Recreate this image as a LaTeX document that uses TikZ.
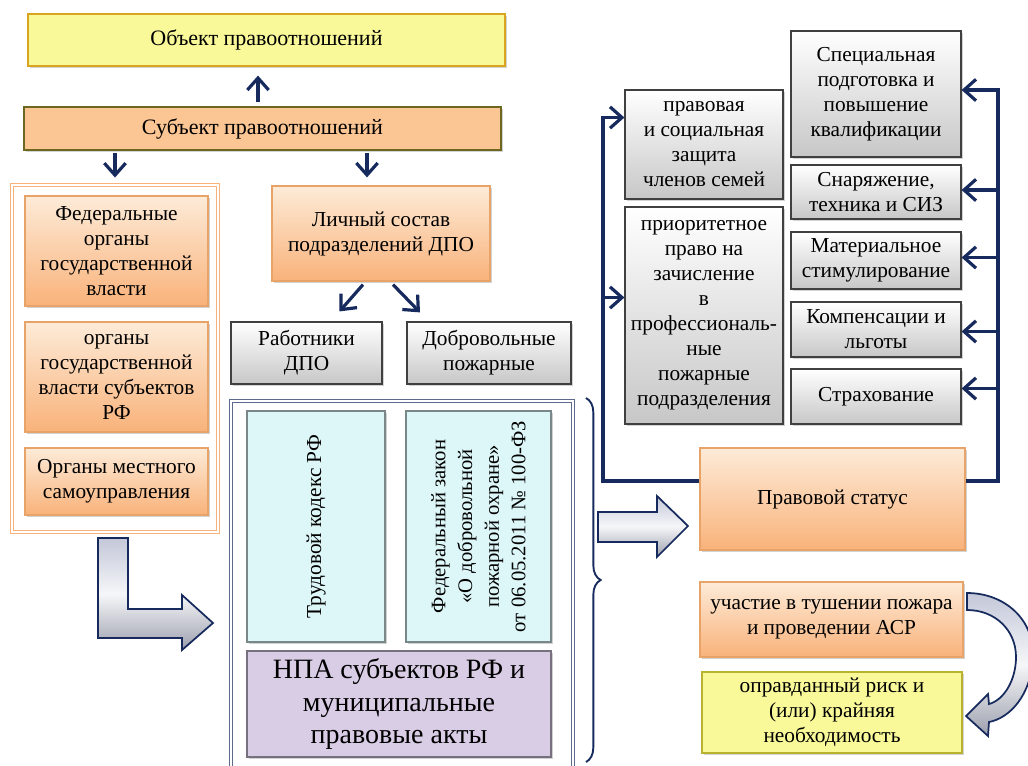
\documentclass[tikz,border=0pt]{standalone}
\usepackage{fontspec}
\setmainfont{Liberation Serif}
\usetikzlibrary{arrows.meta,calc,shadows,decorations.pathreplacing}

\definecolor{navy}{HTML}{172A5E}
\definecolor{peach}{HTML}{F9B27A}
\definecolor{peachlt}{HTML}{FDEBD8}
\definecolor{subjfill}{HTML}{FBC594}
\definecolor{lemon}{HTML}{F9F99A}
\definecolor{gold}{HTML}{D9A520}
\definecolor{icecyan}{HTML}{DDF6F8}
\definecolor{lilac}{HTML}{D9CCE5}
\definecolor{steel}{HTML}{C3C7D8}

\tikzset{decoration={brace,amplitude=11pt}}
\tikzset{
  px/.style 2 args={minimum width=#1*0.75pt,minimum height=#2*0.75pt},
  box/.style={inner sep=1pt,align=center,font=\fontsize{16}{18.75}\selectfont,
              drop shadow={shadow xshift=1.6pt,shadow yshift=-1.6pt,opacity=.35}},
  graybox/.style={box,draw=black!75,line width=.9pt,top color=white,bottom color=black!22},
  peachbox/.style={box,draw=peach!70!brown,line width=.9pt,top color=peachlt,bottom color=peach},
  lemonbox/.style={box,draw=gold,line width=.9pt,fill=lemon},
  cyanbox/.style={box,draw=black!45!icecyan,line width=.9pt,fill=icecyan},
  lilacbox/.style={box,draw=black!45!lilac,line width=.9pt,fill=lilac},
  framebox/.style={draw=#1,double=white,double distance=1.3pt,line width=.7pt,inner sep=0pt},
  arr/.style={-{Straight Barb[length=9pt,width=16pt]},draw=navy,line width=2.4pt},
  blockarrow/.style={draw=navy,line width=1.3pt,line join=miter,
              top color=steel,bottom color=steel!80!black,middle color=white!85!steel}
}

\begin{document}
\begin{tikzpicture}[x=0.75pt,y=-0.75pt]
\useasboundingbox (0,0) rectangle (1028,765);
\clip (0,0) rectangle (1028,765);

  \node[lemonbox,px={477}{52},font=\fontsize{16.5}{19}\selectfont] (obj) at (266.5,40) {Объект правоотношений};
  \node[box,draw=olive!70!black,line width=.9pt,fill=subjfill,px={477}{43},
        font=\fontsize{16.5}{19}\selectfont] (subj) at (262.5,128.5) {Субъект правоотношений};

  % органы власти
  \node[framebox=peach,fill=white,px={206}{347}] (frameL) at (115,358.5) {};
  \node[peachbox,px={183}{110}] (fed) at (116.5,251) {Федеральные\\органы\\государственной\\власти};
  \node[peachbox,px={183}{110}] (reg) at (116.5,377) {органы\\государственной\\власти субъектов\\РФ};
  \node[peachbox,px={183}{67}] (mun) at (116.5,481.5) {Органы местного\\самоуправления};

  % личный состав
  \node[peachbox,px={218}{95}] (lich) at (381,233.5) {Личный состав\\подразделений ДПО};
  \node[graybox,px={151}{62}] (rab) at (306.5,353) {Работники\\ДПО};
  \node[graybox,px={164}{62}] (dobr) at (489,353) {Добровольные\\пожарные};

  % нормативная база
  \node[framebox=navy!70,fill=white,px={342}{373}] (frameN) at (402,587.5) {};
  \node[cyanbox,rotate=90,px={231}{138}] (tk) at (316,526.5) {Трудовой кодекс РФ};
  \node[cyanbox,rotate=90,px={231}{145},font=\fontsize{15.5}{20}\selectfont] (fz) at (478.5,526.5)
       {Федеральный закон\\«О добровольной\\пожарной охране»\\от 06.05.2011 № 100-ФЗ};
  \node[lilacbox,px={304}{106},font=\fontsize{21}{24.5}\selectfont] (npa) at (399,704)
       {НПА субъектов РФ и\\муниципальные\\правовые акты};

  % правовой статус
  \node[graybox,px={158}{109}] (zash) at (704,144.5) {правовая\\и социальная\\защита\\членов семей};
  \node[graybox,px={158}{217}] (prior) at (704,315.5)
       {приоритетное\\право на\\зачисление\\в\\профессиональ-\\ные\\пожарные\\подразделения};
  \node[graybox,px={170}{126}] (spec) at (876,94) {Специальная\\подготовка и\\повышение\\квалификации};
  \node[graybox,px={170}{54}] (snar) at (876,192) {Снаряжение,\\техника и СИЗ};
  \node[graybox,px={170}{57}] (mat) at (876,260.5) {Материальное\\стимулирование};
  \node[graybox,px={170}{55}] (komp) at (876,329.5) {Компенсации и\\льготы};
  \node[graybox,px={170}{55}] (strah) at (876,396.5) {Страхование};
  \node[peachbox,px={265}{102}] (status) at (832.5,499) {Правовой статус};
  \node[peachbox,px={263}{75}] (uch) at (831.5,619.5) {участие в тушении пожара\\и проведении АСР};
  \node[lemonbox,draw=olive!60!lemon,px={260}{81}] (opr) at (832,712.5)
       {оправданный риск и\\(или) крайняя\\необходимость};

  \draw[arr] ($(subj.north)+(-4.5,-4)$) -- ($(obj.south)+(-8.5,9)$);
  \draw[arr] ($(subj.south -| frameL.north)+(0,2)$) -- ($(frameL.north)+(0,-7)$);
  \draw[arr] ($(subj.south -| lich.north)+(-14,2)$) -- ($(lich.north)+(-14,-8)$);
  \draw[arr] ($(lich.south)+(-18,3)$) -- ($(rab.north)+(33,-10)$);
  \draw[arr] ($(lich.south)+(12,3)$) -- ($(dobr.north)+(-69,-9)$);

  \coordinate (busL) at (603,481);
  \coordinate (busR) at (998,481);
  \draw[arr] (status.west |- busL) -- (busL) |- ($(zash.west)+(0,-27)$);
  \draw[arr] ($(busL |- prior.west)+(0,-18)$) -- ($(prior.west)+(0,-18)$);
  \draw[arr] (status.east |- busR) -- (busR) |- ($(spec.east)+(0,-4)$);
  \foreach \n/\dy in {snar/-2,mat/-3,komp/2,strah/-8}
    \draw[arr] ($(busR |- \n.east)+(0,\dy)$) -- ($(\n.east)+(0,\dy)$);

  \draw[decorate,draw=navy,line width=1.4pt] (586,398) -- (586,762);

  \draw[blockarrow] (98,538) -- (128,538) -- (128,609) -- (182,609) -- (182,595)
       -- (213,623) -- (182,650) -- (182,638) -- (98,638) -- cycle;
  \draw[blockarrow] (598,512) -- (657,512) -- (657,496) -- (688,526) -- (657,557)
       -- (657,542) -- (598,542) -- cycle;
  \draw[blockarrow] (967,593) .. controls (1005,593) and (1035,620) .. (1033,658)
       .. controls (1031,695) and (1010,718) .. (989,722) -- (988,736) -- (966,716)
       -- (988,694) -- (989,704) .. controls (1004,700) and (1016,680) .. (1016,657)
       .. controls (1016,630) and (995,610) .. (967,610) -- cycle;

\end{tikzpicture}
\end{document}
